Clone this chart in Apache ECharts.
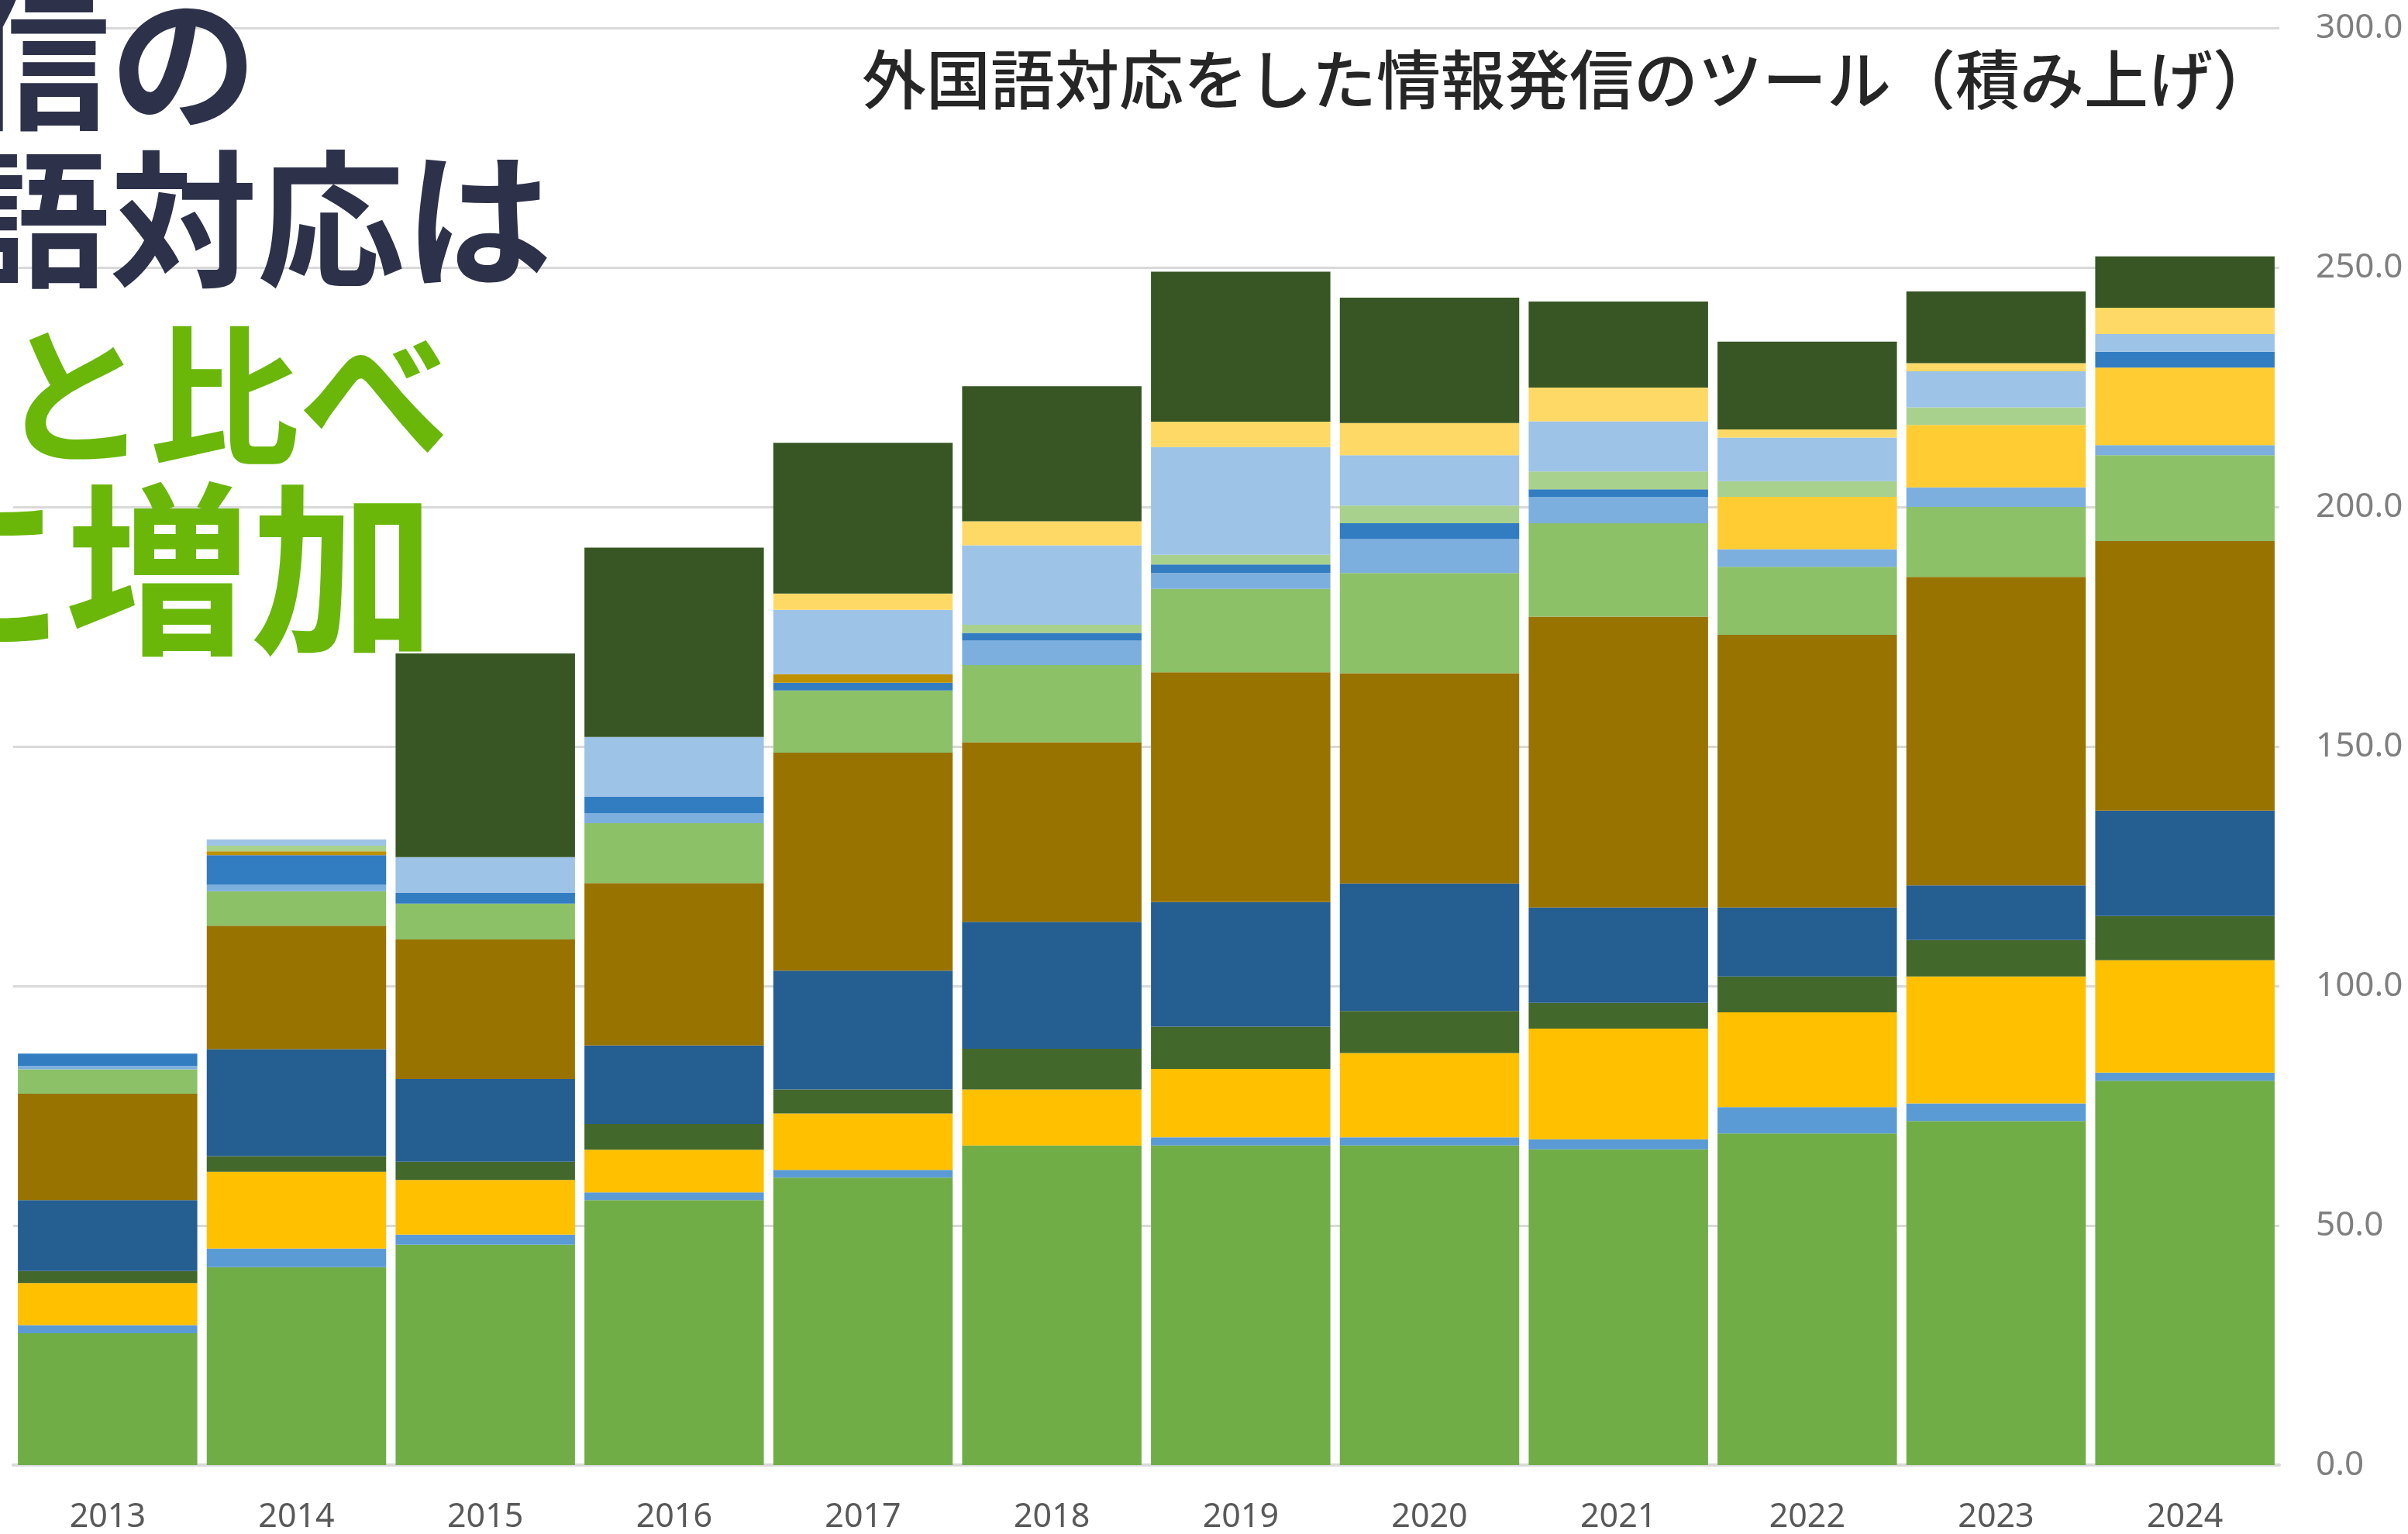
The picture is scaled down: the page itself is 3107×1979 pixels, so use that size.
<!DOCTYPE html>
<html lang="ja">
<head>
<meta charset="utf-8">
<script src="https://cdn.jsdelivr.net/npm/echarts@6/dist/echarts.min.js"></script>
<style>
  html, body { margin: 0; padding: 0; background: #fff; }
  #chart { width: 3107px; height: 1979px; }
</style>
</head>
<body>
<div id="chart"></div>
<script>
// 年（横軸）
const years = ['2013', '2014', '2015', '2016', '2017', '2018', '2019', '2020', '2021', '2022', '2023', '2024'];

// 積み上げの各ツール（下から順）
const s01 = [27.5, 41.3, 46.0, 55.3, 60.0, 66.7, 66.7, 66.7, 65.9, 69.2, 71.8, 80.2];
const s02 = [1.7, 3.9, 2.1, 1.6, 1.6, 0, 1.7, 1.7, 2.1, 5.5, 3.7, 1.7];
const s03 = [8.8, 16.0, 11.4, 8.9, 11.8, 11.7, 14.3, 17.6, 23.1, 19.8, 26.5, 23.5];
const s04 = [2.5, 3.3, 3.8, 5.4, 5.0, 8.5, 8.8, 8.8, 5.4, 7.5, 7.6, 9.2];
const s05 = [14.8, 22.3, 17.3, 16.4, 24.8, 26.5, 26.0, 26.6, 19.9, 14.4, 11.4, 22.0];
const s06 = [22.2, 25.8, 29.1, 33.9, 45.5, 37.5, 48.0, 43.9, 60.7, 56.9, 64.4, 56.3];
const s07 = [5.1, 7.2, 7.5, 12.5, 13.0, 16.1, 17.4, 20.9, 19.5, 14.2, 14.6, 17.9];
const s08 = [0.7, 1.3, 0, 2.1, 0, 5.1, 3.3, 7.1, 5.5, 3.7, 4.1, 2.1];
const s09 = [0, 0, 0, 0, 0, 0, 0, 0, 0, 10.9, 13.0, 16.2];
const s10 = [2.6, 6.2, 2.2, 3.4, 1.6, 1.6, 1.8, 3.3, 1.6, 0, 0, 3.3];
const s11 = [0, 0.8, 0, 0, 1.8, 0, 0, 0, 0, 0, 0, 0];
const s12 = [0, 1.2, 0, 0, 0, 1.7, 2.0, 3.7, 3.7, 3.3, 3.7, 0];
const s13 = [0, 1.3, 7.5, 12.5, 13.4, 16.6, 22.5, 10.5, 10.5, 9.1, 7.5, 3.7];
const s14 = [0, 0, 0, 0, 3.4, 5.0, 5.3, 6.7, 7.0, 1.7, 1.7, 5.5];
const s15 = [0, 0, 42.5, 39.5, 31.5, 28.2, 31.3, 26.2, 18.0, 18.3, 15.0, 10.7];

const stackData = [s01, s02, s03, s04, s05, s06, s07, s08, s09, s10, s11, s12, s13, s14, s15];

// 色
const colors = [
  '#70ad47', '#5b9bd5', '#ffc000', '#43682b', '#255e91', '#997300',
  '#8cc168', '#7cafdd', '#ffcd33', '#327dc2', '#bf9000', '#a9d18e',
  '#9dc3e6', '#ffd966', '#375623'
];

const titleText = '外国語対応をした情報発信のツール（積み上げ）';

const chart = echarts.init(document.getElementById('chart'));

const bigFont = 'bold 190px "Noto Sans CJK JP"';

const option = {
  animation: false,
  backgroundColor: '#ffffff',
  grid: { left: 17, right: 166, top: 36, bottom: 81 },
  xAxis: {
    type: 'category',
    data: years,
    axisTick: { show: false },
    axisLine: { lineStyle: { color: '#d9d9d9', width: 4 } },
    axisLabel: { color: '#595959', fontSize: 43, fontFamily: 'Noto Sans', margin: 46 }
  },
  yAxis: {
    type: 'value',
    position: 'right',
    min: 0,
    max: 300,
    interval: 50,
    axisLine: { show: false },
    axisTick: { show: false },
    splitLine: { lineStyle: { color: '#d9d9d9', width: 3 } },
    axisLabel: {
      color: '#7f7f7f',
      fontSize: 44,
      fontFamily: 'Noto Sans',
      margin: 47,
      formatter: (v) => v.toFixed(1)
    }
  },
  series: stackData.map((d, i) => ({
    name: 'tool' + (i + 1),
    type: 'bar',
    stack: 'total',
    barCategoryGap: '5%',
    data: d,
    itemStyle: { color: colors[i] }
  })),
  graphic: [
    {
      type: 'text', z: 100, x: 1112, y: 102,
      style: {
        text: titleText, font: '500 83px "Noto Sans CJK JP"', fill: '#262626',
        align: 'left', verticalAlign: 'middle'
      }
    },
    {
      type: 'text', z: 100, x: -48, y: 80,
      style: { text: '信の', font: bigFont, fill: '#2d3149', align: 'left', verticalAlign: 'middle' }
    },
    {
      type: 'text', z: 100, x: -48, y: 283,
      style: { text: '語対応は', font: bigFont, fill: '#2d3149', align: 'left', verticalAlign: 'middle' }
    },
    {
      type: 'text', z: 100, x: -2, y: 510,
      style: { text: 'と比べ', font: 'bold 194px "Noto Sans CJK JP"', fill: '#6ab70a', align: 'left', verticalAlign: 'middle' }
    },
    {
      type: 'text', z: 100, x: -155, y: 734,
      style: { text: 'に増加', font: 'bold 239px "Noto Sans CJK JP"', fill: '#6ab70a', align: 'left', verticalAlign: 'middle' }
    }
  ]
};

chart.setOption(option);
</script>
</body>
</html>
